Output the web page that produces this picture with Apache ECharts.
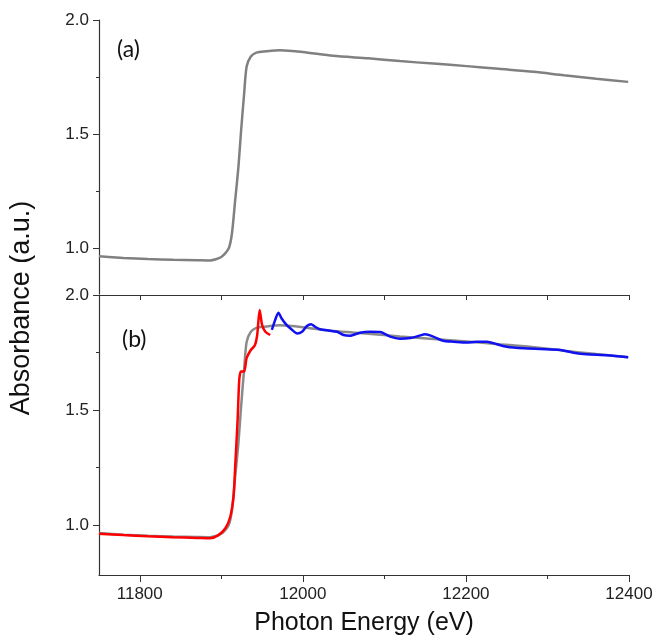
<!DOCTYPE html>
<html>
<head>
<meta charset="utf-8">
<script src="https://cdn.jsdelivr.net/npm/echarts@6/dist/echarts.min.js"></script>
<style>html,body{margin:0;padding:0;background:#fff}#c{width:656px;height:639px}</style>
</head>
<body>
<div id="c"></div>
<script>
// Reference spectrum (grey), energy in eV vs absorbance
const greyE = [11750,11780,11810,11841,11870,11886,11900,11909,11913,11917,11921,11924,11928,11931,11936,11943,11955,11972,12000,12037,12080,12119,12160,12201,12240,12283,12320,12360,12399];
const greyA = [0.965,0.958,0.953,0.950,0.948,0.947,0.962,0.999,1.064,1.21,1.357,1.503,1.678,1.795,1.839,1.857,1.863,1.868,1.860,1.843,1.832,1.820,1.809,1.798,1.786,1.773,1.758,1.743,1.729];
// Red segment (near-edge region)
const redE = [11750,11780,11810,11840,11870,11886,11896,11905,11911,11915,11917,11920,11922,11924,11928,11931,11936,11941,11944,11947,11950,11954,11960];
const redA = [0.962,0.956,0.951,0.947,0.944,0.942,0.955,0.986,1.036,1.123,1.254,1.457,1.63,1.667,1.667,1.725,1.76,1.78,1.826,1.935,1.87,1.84,1.826];
// Blue segment (extended region)
const blueE = [11962,11966,11970,11974,11980,11986,11993,11999,12005,12010,12015,12021,12033,12042,12050,12058,12070,12083,12095,12107,12119,12132,12142,12150,12160,12172,12185,12201,12213,12226,12238,12250,12271,12291,12316,12332,12348,12373,12399];
const blueA = [1.848,1.891,1.923,1.898,1.87,1.851,1.833,1.84,1.865,1.873,1.862,1.851,1.845,1.84,1.826,1.823,1.836,1.84,1.839,1.819,1.81,1.813,1.822,1.829,1.819,1.801,1.797,1.793,1.797,1.797,1.786,1.775,1.768,1.765,1.761,1.749,1.742,1.738,1.729];

const xMajor = [11800,12000,12200,12400];
const xMinor = [11900,12100,12300];
const xAll = [11800,11900,12000,12100,12200,12300,12400];
const yMajor = [1.0,1.5,2.0];
const yMinor = [1.25,1.75];

const zip = (a,b) => a.map((v,i)=>[v,b[i]]);
const AX = '#333';
const FONT = '"Liberation Sans", Arial, sans-serif';

const chart = echarts.init(document.getElementById('c'), null, {renderer:'canvas'});
const yMaj = (grid, min) => ({
  gridIndex: grid, type:'value', position:'left', min: min, max: 2.0,
  axisLine:{show:true, onZero:false, lineStyle:{color:AX, width:1.2}},
  axisTick:{show:true, length:6, customValues:yMajor, lineStyle:{color:AX}},
  axisLabel:{show:true, customValues:yMajor, margin:10, fontSize:17, color:'#222', fontFamily:FONT, formatter:v=>v.toFixed(1)},
  splitLine:{show:false}
});
const yMin = (grid, min) => ({
  gridIndex: grid, type:'value', position:'left', min: min, max: 2.0,
  axisLine:{show:false, onZero:false},
  axisTick:{show:true, length:3, customValues:yMinor, lineStyle:{color:AX}},
  axisLabel:{show:false}, splitLine:{show:false}
});
const line = (name, data, color, xi, yi) => ({
  name, type:'line', data, xAxisIndex:xi, yAxisIndex:yi, showSymbol:false, symbol:'none',
  smooth:0.25, lineStyle:{color, width:2.5}, animation:false
});

chart.setOption({
  animation:false,
  grid:[
    {left:99, top:20, width:530, height:274},
    {left:99, top:295, width:530, height:280}
  ],
  xAxis:[
    {gridIndex:0, type:'value', min:11750, max:12400, show:false},
    {gridIndex:1, type:'value', min:11750, max:12400, position:'bottom',
     axisLine:{show:true, onZero:false, lineStyle:{color:AX, width:1.2}},
     axisTick:{show:true, length:7, customValues:xMajor, lineStyle:{color:AX}},
     axisLabel:{show:true, customValues:xMajor, margin:11, fontSize:17, color:'#222', fontFamily:FONT, formatter:v=>String(v)},
     splitLine:{show:false},
     name:'Photon Energy (eV)', nameLocation:'middle', nameGap:36,
     nameTextStyle:{fontSize:25, color:'#111', fontFamily:FONT}},
    {gridIndex:1, type:'value', min:11750, max:12400, position:'bottom',
     axisLine:{show:false, onZero:false},
     axisTick:{show:true, length:4, customValues:xMinor, lineStyle:{color:AX}},
     axisLabel:{show:false}, splitLine:{show:false}},
    {gridIndex:1, type:'value', min:11750, max:12400, position:'top',
     axisLine:{show:true, onZero:false, lineStyle:{color:AX, width:1.2}},
     axisTick:{show:true, inside:true, length:5, customValues:xAll, lineStyle:{color:AX}},
     axisLabel:{show:false}, splitLine:{show:false}}
  ],
  yAxis:[ yMaj(0,0.8), yMin(0,0.8), yMaj(1,0.7826), yMin(1,0.7826) ],
  series:[
    line('ref-a', zip(greyE,greyA), '#808080', 0, 0),
    line('ref-b', zip(greyE,greyA), '#8a8a8a', 1, 2),
    line('red', zip(redE,redA), '#ff0000', 1, 2),
    line('blue', zip(blueE,blueA), '#1010f0', 1, 2)
  ],
  graphic:[
    {type:'text', left:117, top:38, style:{text:'(a)', fontSize:23, fill:'#111', fontFamily:'Lato, "Open Sans", sans-serif'}},
    {type:'text', left:122, top:328, style:{text:'(b)', fontSize:23, fill:'#111', fontFamily:'Lato, "Open Sans", sans-serif'}},
    {type:'text', x:22, y:308, rotation:Math.PI/2,
     style:{text:'Absorbance (a.u.)', fontSize:27, fill:'#111', fontFamily:FONT, align:'center', verticalAlign:'middle'}}
  ]
});
</script>
</body>
</html>
